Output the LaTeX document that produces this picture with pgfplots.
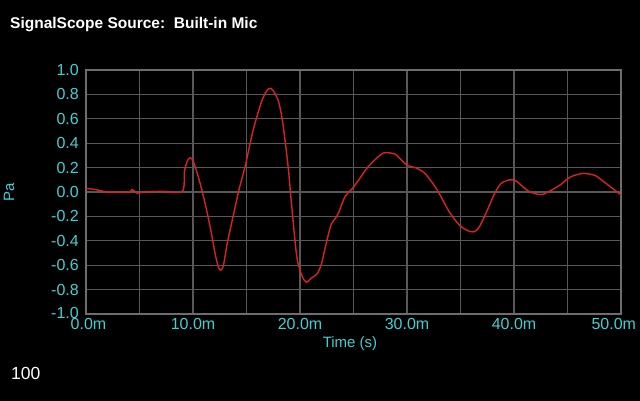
\documentclass[border=0pt]{standalone}
\usepackage{fontspec}
\setmainfont{Liberation Sans}
\usepackage{pgfplots}
\pgfplotsset{compat=1.18}
\definecolor{cy}{RGB}{64,208,212}
\definecolor{rd}{RGB}{215,35,35}
\definecolor{gr}{RGB}{88,88,88}
\definecolor{fr}{RGB}{110,110,110}
\begin{document}
\begin{tikzpicture}[x=1pt,y=1pt]
\fill[black] (0,0) rectangle (640,401);
\useasboundingbox (0,0) rectangle (640,401);
\node[anchor=base west, text=white, font=\fontsize{15.5}{18}\selectfont\bfseries, inner sep=0] at (10,372) {SignalScope Source:\ \ Built-in Mic};
\node[anchor=base west, text=white, font=\fontsize{17.5}{20}\selectfont, inner sep=0] at (11,21) {100};
\node[anchor=base, text=cy, font=\fontsize{15}{18}\selectfont, inner sep=0] at (350,53) {Time (s)};
\node[anchor=center, rotate=90, text=cy, font=\fontsize{15}{18}\selectfont, inner sep=0] at (9,209) {Pa};
\begin{axis}[
  at={(86pt,87pt)}, anchor=south west,
  scale only axis, width=535pt, height=244pt,
  xmin=0, xmax=50, ymin=-1, ymax=1,
  axis line style={fr, line width=1.6pt},
  grid=both,
  major grid style={gr, line width=1.2pt},
  minor grid style={gr, line width=1.2pt},
  tick style={draw=none},
  xtick={0,10,20,30,40,50},
  minor xtick={5,15,25,35,45},
  xticklabels={\hspace{5pt}0.0m,10.0m,20.0m,30.0m,40.0m,\makebox[0pt][r]{50.0m\kern-15pt}},
  ytick={-1,-0.8,-0.6,-0.4,-0.2,0,0.2,0.4,0.6,0.8,1},
  yticklabels={\raisebox{2.5pt}{-1.0},-0.8,-0.6,-0.4,-0.2,0.0,0.2,0.4,0.6,0.8,1.0},
  ticklabel style={text=cy, font=\fontsize{16}{17}\selectfont},
  xticklabel style={inner sep=0pt, yshift=-4pt},
  yticklabel style={inner sep=0pt, xshift=-7pt},
  clip=true,
]
\addplot[rd, line width=1.4pt, smooth, tension=0.45] coordinates {
(0.0,0.03) (0.9,0.02) (2.0,0.0) (3.5,0.0) (4.1,0.0) (4.3,0.02) (4.5,0.01) (4.8,-0.01)
(5.3,0.0) (7.0,0.005) (9.0,0.005) (9.2,0.17) (9.5,0.26) (9.75,0.28) (10.0,0.26)
(10.3,0.18) (10.7,0.06) (11.2,-0.12) (11.7,-0.33) (12.1,-0.52) (12.4,-0.62) (12.6,-0.64) (12.85,-0.6)
(13.2,-0.42) (13.8,-0.18) (14.3,0.02) (14.9,0.22) (15.6,0.5) (16.4,0.74) (16.9,0.83)
(17.2,0.85) (17.5,0.83) (18.0,0.74) (18.4,0.56) (18.9,0.2) (19.2,-0.09) (19.7,-0.53)
(20.2,-0.69) (20.6,-0.74) (21.0,-0.71) (21.6,-0.67) (22.0,-0.59) (22.4,-0.44) (22.9,-0.27)
(23.5,-0.19) (24.2,-0.04) (24.9,0.03) (25.5,0.1) (26.3,0.2) (27.2,0.28) (27.8,0.32)
(28.4,0.32) (28.9,0.31) (29.5,0.26) (30.0,0.22) (30.9,0.195) (31.7,0.15) (32.8,0.02)
(34.0,-0.17) (35.0,-0.28) (35.9,-0.325) (36.4,-0.32) (36.8,-0.28) (37.4,-0.17) (38.2,-0.01)
(38.8,0.07) (39.6,0.1) (40.2,0.09) (41.0,0.03) (41.5,0.0) (42.3,-0.02) (42.7,-0.02)
(43.4,0.01) (44.3,0.057) (45.2,0.12) (46.0,0.145) (46.5,0.153) (47.2,0.145) (47.7,0.13)
(48.3,0.09) (48.8,0.057) (49.5,0.01) (50.0,-0.025)
};
\end{axis}
\end{tikzpicture}
\end{document}
